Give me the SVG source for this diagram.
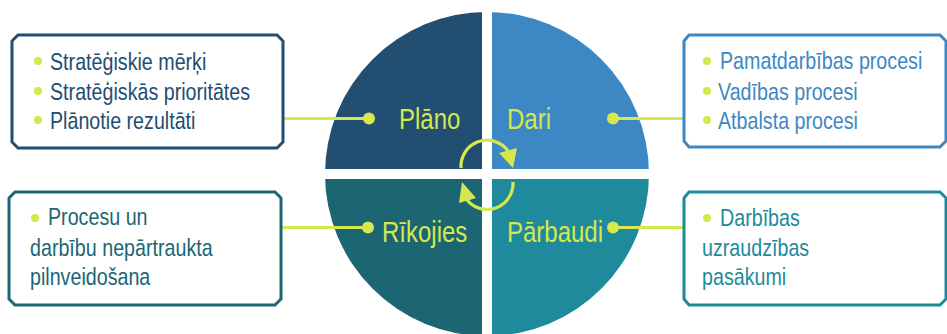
<svg xmlns="http://www.w3.org/2000/svg" width="947" height="334" viewBox="0 0 947 334">
<style>
.box{fill:#fff;stroke-width:3}
.bt{font-family:"Liberation Sans",Arial,sans-serif;font-size:24px}
.ql{font-family:"Liberation Sans",Arial,sans-serif;font-size:30px;fill:#d6e84c}
.con{stroke:#d6e84c;stroke-width:3;fill:none}
.dot{fill:#d6e84c}
.cyc{stroke:#d6e84c;stroke-width:3.2;fill:none}
</style>
<defs>
<clipPath id="cc"><circle cx="487" cy="174" r="162"/></clipPath>
</defs>
<rect width="947" height="334" fill="#fff"/>
<g id="circle" clip-path="url(#cc)">
<rect x="320" y="0" width="162" height="169" fill="#224e72"/>
<rect x="492" y="0" width="162" height="169" fill="#3d87c4"/>
<rect x="320" y="179" width="162" height="170" fill="#1c6674"/>
<rect x="492" y="179" width="162" height="170" fill="#1e8a9c"/>
</g>
<g id="connectors">
<line class="con" x1="283" y1="118.5" x2="369" y2="118.5"/>
<circle class="dot" cx="369" cy="118.5" r="6"/>
<line class="con" x1="613" y1="118.5" x2="684" y2="118.5"/>
<circle class="dot" cx="613" cy="118.5" r="6"/>
<line class="con" x1="281" y1="227.5" x2="368" y2="227.5"/>
<circle class="dot" cx="368" cy="227.5" r="6"/>
<line class="con" x1="613" y1="227.5" x2="684" y2="227.5"/>
<circle class="dot" cx="613" cy="227.5" r="6"/>
</g>
<g id="cycle">
<path class="cyc" d="M461,168 A26,26 0 0 1 508,151"/>
<polygon fill="#d6e84c" points="499,153 517,148 513,168"/>
<path class="cyc" d="M513,182 A26,26 0 0 1 467,200"/>
<polygon fill="#d6e84c" points="459,203 476,198 462,182"/>
</g>
<g id="plano">
<text class="ql" transform="translate(399,129) scale(0.8,1)">Plāno</text>
</g>
<g id="dari">
<text class="ql" transform="translate(507,129) scale(0.8,1)">Dari</text>
</g>
<g id="rikojies">
<text class="ql" transform="translate(382,242) scale(0.8,1)">Rīkojies</text>
</g>
<g id="parbaudi">
<text class="ql" transform="translate(507,242) scale(0.8,1)">Pārbaudi</text>
</g>
<g id="box-plan">
<path class="box" stroke="#234d72" d="M18,35 L277,35 L283,41 L283,142 L277,148 L18,148 L12,142 L12,41 Z"/>
<circle class="dot" cx="38" cy="61" r="4"/>
<circle class="dot" cx="38" cy="91" r="4"/>
<circle class="dot" cx="38" cy="120" r="4"/>
<text class="bt" fill="#234d72" transform="translate(50,70) scale(0.82,1)">Stratēģiskie mērķi</text>
<text class="bt" fill="#234d72" transform="translate(50,100) scale(0.82,1)">Stratēģiskās prioritātes</text>
<text class="bt" fill="#234d72" transform="translate(50,129) scale(0.82,1)">Plānotie rezultāti</text>
</g>
<g id="box-do">
<path class="box" stroke="#3d87c4" d="M689,35 L940,35 L946,41 L946,141 L940,147 L689,147 L684,141 L684,41 Z"/>
<circle class="dot" cx="707" cy="61" r="4"/>
<circle class="dot" cx="707" cy="91" r="4"/>
<circle class="dot" cx="707" cy="120" r="4"/>
<text class="bt" fill="#3d87c4" transform="translate(720,69) scale(0.82,1)">Pamatdarbības procesi</text>
<text class="bt" fill="#3d87c4" transform="translate(718,100) scale(0.82,1)">Vadības procesi</text>
<text class="bt" fill="#3d87c4" transform="translate(718,129) scale(0.82,1)">Atbalsta procesi</text>
</g>
<g id="box-act">
<path class="box" stroke="#1c6674" d="M15,192 L275,192 L281,198 L281,299 L275,305 L15,305 L9,299 L9,198 Z"/>
<circle class="dot" cx="35" cy="218" r="4"/>
<text class="bt" fill="#1c6674" transform="translate(48,225) scale(0.82,1)">Procesu un</text>
<text class="bt" fill="#1c6674" transform="translate(30,256) scale(0.82,1)">darbību nepārtraukta</text>
<text class="bt" fill="#1c6674" transform="translate(30,285) scale(0.82,1)">pilnveidošana</text>
</g>
<g id="box-check">
<path class="box" stroke="#1e8a9c" d="M689,192 L940,192 L946,198 L946,299 L940,305 L689,305 L684,299 L684,198 Z"/>
<circle class="dot" cx="707" cy="218" r="4"/>
<text class="bt" fill="#1e8a9c" transform="translate(720,226) scale(0.82,1)">Darbības</text>
<text class="bt" fill="#1e8a9c" transform="translate(702,256) scale(0.82,1)">uzraudzības</text>
<text class="bt" fill="#1e8a9c" transform="translate(702,285) scale(0.82,1)">pasākumi</text>
</g>
</svg>
